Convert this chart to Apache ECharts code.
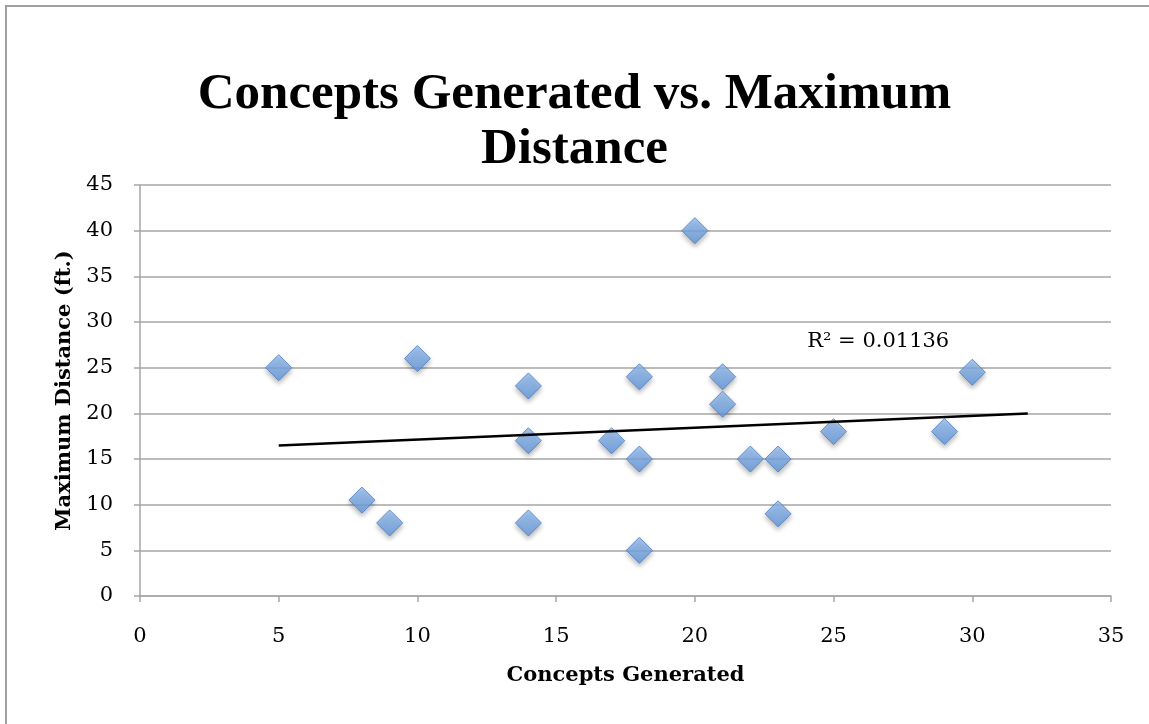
<!DOCTYPE html>
<html>
<head>
<meta charset="utf-8">
<title>Concepts Generated vs. Maximum Distance</title>
<script src="https://cdn.jsdelivr.net/npm/echarts@6/dist/echarts.min.js"></script>
<style>
  html, body { margin: 0; padding: 0; background: #ffffff; overflow: hidden; }
  #frame {
    position: absolute; left: 5px; top: 5px; right: -10px; bottom: -10px;
    border-top: 2px solid #a0a0a0; border-left: 2px solid #a0a0a0;
  }
  #chart { position: absolute; left: 0; top: 0; width: 1149px; height: 724px; }
</style>
</head>
<body>
<div id="frame"></div>
<div id="chart"></div>
<script>
// Each entry: number of concepts a team generated, and the farthest distance reached (ft.)
const conceptsGenerated = [5, 8, 9, 10, 14, 14, 14, 17, 18, 18, 18, 20, 21, 21, 22, 23, 23, 25, 29, 30];
const maxDistance       = [25, 10.5, 8, 26, 23, 17, 8, 17, 24, 15, 5, 40, 24, 21, 15, 15, 9, 18, 18, 24.5];

const xTicks = [0, 5, 10, 15, 20, 25, 30, 35];
const yTicks = [0, 5, 10, 15, 20, 25, 30, 35, 40, 45];

// Linear trendline extends from the smallest x to two units past the largest x
const trendFrom = 5;
const trendTo = 32;
const rSquaredText = 'R² = 0.01136';

function linearFit(xs, ys) {
  const n = xs.length;
  const mx = xs.reduce((a, b) => a + b, 0) / n;
  const my = ys.reduce((a, b) => a + b, 0) / n;
  let sxy = 0, sxx = 0;
  for (let i = 0; i < n; i++) {
    sxy += (xs[i] - mx) * (ys[i] - my);
    sxx += (xs[i] - mx) * (xs[i] - mx);
  }
  const slope = sxy / sxx;
  return { slope: slope, intercept: my - slope * mx };
}

const fit = linearFit(conceptsGenerated, maxDistance);
const trendPoints = [trendFrom, trendTo].map(x => [x, fit.intercept + fit.slope * x]);
const points = conceptsGenerated.map((x, i) => [x, maxDistance[i]]);

const serif = '"DejaVu Serif", "Liberation Serif", serif';
const titleSerif = '"Liberation Serif", "DejaVu Serif", serif';
const gridGray = '#a6a6a6';

const chart = echarts.init(document.getElementById('chart'), null, { renderer: 'canvas' });

chart.setOption({
  animation: false,
  backgroundColor: 'transparent',
  title: {
    text: 'Concepts Generated vs. Maximum\nDistance',
    left: 'center',
    top: 62,
    textStyle: {
      fontFamily: titleSerif,
      fontWeight: 'bold',
      fontSize: 51,
      lineHeight: 55,
      color: '#000000'
    }
  },
  grid: { left: 140, right: 38, top: 185, bottom: 128, containLabel: false },
  xAxis: {
    type: 'value',
    min: xTicks[0],
    max: xTicks[xTicks.length - 1],
    interval: 5,
    name: 'Concepts Generated',
    nameLocation: 'middle',
    nameGap: 69,
    nameTextStyle: { fontFamily: serif, fontWeight: 'bold', fontSize: 21, color: '#000' },
    axisLine: { show: true, lineStyle: { color: gridGray, width: 1.5 } },
    axisTick: { show: true, inside: false, length: 6, lineStyle: { color: gridGray, width: 1.5 } },
    axisLabel: { fontFamily: serif, fontSize: 21, color: '#000', margin: 30 },
    splitLine: { show: false }
  },
  yAxis: {
    type: 'value',
    min: yTicks[0],
    max: yTicks[yTicks.length - 1],
    interval: 5,
    name: 'Maximum Distance (ft.)',
    nameLocation: 'middle',
    nameGap: 64,
    nameTextStyle: { fontFamily: serif, fontWeight: 'bold', fontSize: 21, color: '#000' },
    axisLine: { show: true, lineStyle: { color: gridGray, width: 1.5 } },
    axisTick: { show: true, inside: false, length: 6, lineStyle: { color: gridGray, width: 1.5 } },
    axisLabel: { fontFamily: serif, fontSize: 21, color: '#000', margin: 27 },
    splitLine: { show: true, lineStyle: { color: gridGray, width: 1.5 } }
  },
  series: [
    {
      name: 'Maximum Distance',
      type: 'scatter',
      data: points,
      symbol: 'diamond',
      symbolSize: 26,
      z: 3,
      itemStyle: {
        color: new echarts.graphic.LinearGradient(0, 0, 0, 1, [
          { offset: 0, color: '#96bff2' },
          { offset: 1, color: '#6298de' }
        ]),
        borderColor: '#4a7ec4',
        borderWidth: 1,
        shadowColor: 'rgba(0,0,0,0.35)',
        shadowBlur: 5,
        shadowOffsetY: 3
      }
    },
    {
      name: 'Linear trend',
      type: 'line',
      data: trendPoints,
      symbol: 'none',
      z: 4,
      lineStyle: { color: '#000000', width: 2.5 },
      silent: true
    }
  ]
});

// R² annotation anchored to data space near the right end of the trendline
const labelAnchor = chart.convertToPixel({ gridIndex: 0 }, [24.05, 27.9]);
chart.setOption({
  graphic: [{
    type: 'text',
    x: labelAnchor[0],
    y: labelAnchor[1],
    style: {
      text: rSquaredText,
      font: '21px ' + serif,
      fill: '#000000',
      textAlign: 'left',
      textVerticalAlign: 'middle'
    },
    z: 10
  }]
});
</script>
</body>
</html>
